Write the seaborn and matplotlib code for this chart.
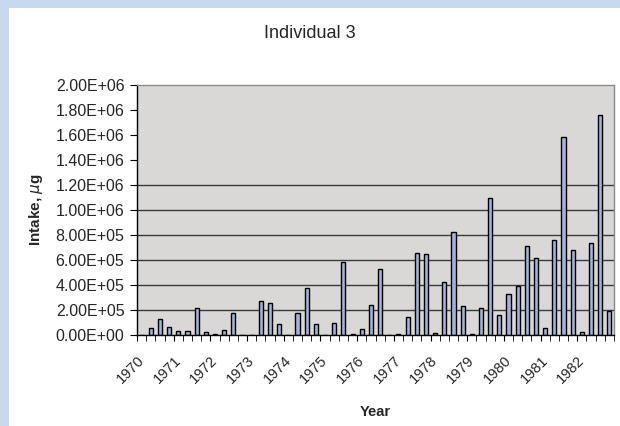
import pandas as pd
import numpy as np
import matplotlib
matplotlib.use('Agg')
import matplotlib.pyplot as plt
import matplotlib.ticker as mticker
import seaborn as sns

# quarterly intake
years = list(range(1970, 1983))
quarters = ['Q1', 'Q2', 'Q3', 'Q4']
intake = [
    0, 53000, 125000, 67000,
    30000, 30000, 220000, 24000,
    5000, 43000, 176000, 4000,
    0, 270000, 253000, 88000,
    0, 176000, 373000, 88000,
    0, 96000, 587000, 6000,
    50000, 237000, 525000, 4000,
    5000, 141000, 653000, 648000,
    16000, 424000, 827000, 229000,
    10000, 213000, 1100000, 157000,
    325000, 392000, 712000, 619000,
    56000, 757000, 1587000, 680000,
    21000, 733000, 1757000, 195000,
]

df = pd.DataFrame({
    'Period': [f'{y} {q}' for y in years for q in quarters],
    'Intake': intake,
})

sns.set_style('white')
plt.rcParams['font.family'] = ['Liberation Sans', 'DejaVu Sans']

fig = plt.figure(figsize=(6.2, 4.26), dpi=100, facecolor='#c6d9ef')
# white chart panel inside the light blue frame
fig.patches.append(plt.Rectangle((9 / 620, 0), 1, 418 / 426, transform=fig.transFigure,
                                 facecolor='white', edgecolor='none', zorder=-10))
ax = fig.add_axes([137 / 620, (426 - 335) / 426, 477 / 620, 250 / 426])
ax.set_facecolor('#d9d8d6')

# gridlines (only the lower ones show in the original)
for v in [200000, 400000, 600000, 800000, 1000000, 1200000]:
    ax.axhline(v, color='#3a3a3a', lw=1.0, zorder=1)

sns.barplot(data=df, x='Period', y='Intake', order=df['Period'], color='#a3b4dc',
            edgecolor='black', linewidth=1.0, width=0.45, saturation=1, ax=ax, zorder=2)

ax.set_xlim(-0.5, len(df) - 0.5)
ax.set_ylim(0, 2000000)
ax.yaxis.set_major_locator(mticker.MultipleLocator(200000))
ax.yaxis.set_major_formatter(mticker.FuncFormatter(lambda v, p: f'{v:.2E}'))
ax.tick_params(axis='y', labelsize=11.5, length=5, direction='out', left=True, color='black', pad=4)

ax.set_xticks([4 * k - 0.5 for k in range(len(years))])
ax.set_xticklabels([str(y) for y in years], rotation=45, ha='right', rotation_mode='anchor', fontsize=10.5)
ax.set_xticks(np.arange(-0.5, len(df)), minor=True)
ax.tick_params(axis='x', which='both', length=4, direction='out', bottom=True, color='black', pad=9)

for s in ['left', 'bottom']:
    ax.spines[s].set_color('black')
    ax.spines[s].set_linewidth(1.0)
for s in ['top', 'right']:
    ax.spines[s].set_color('#8a8a8a')
    ax.spines[s].set_linewidth(1.0)

ax.set_xlabel('Year', fontsize=10.5, fontweight='bold', labelpad=14)
ax.set_ylabel('Intake, $\\mu$g', fontsize=11, fontweight='bold', labelpad=8)
fig.text(0.5, 0.922, 'Individual 3', ha='center', va='center', fontsize=13)

fig.savefig('out.png', dpi=100, facecolor=fig.get_facecolor())
